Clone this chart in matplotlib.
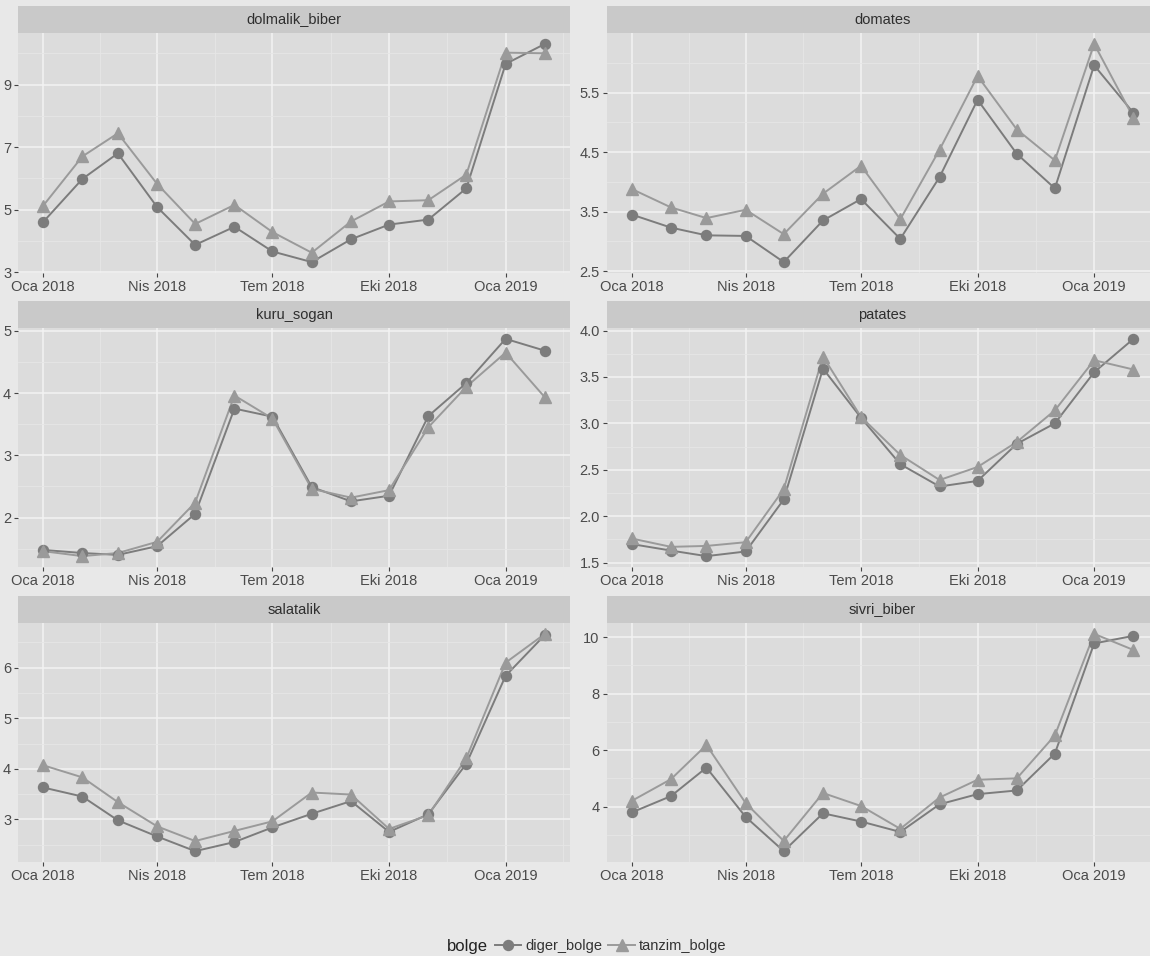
import matplotlib
matplotlib.use("Agg")
import matplotlib.pyplot as plt
import matplotlib.dates as mdates
from matplotlib.lines import Line2D
import pandas as pd

plt.rcParams['font.family'] = ['Liberation Sans', 'DejaVu Sans']

# ---------------- data ----------------
months = pd.to_datetime([
    "2018-01-01", "2018-02-01", "2018-03-01", "2018-04-01", "2018-05-01",
    "2018-06-01", "2018-07-01", "2018-08-01", "2018-09-01", "2018-10-01",
    "2018-11-01", "2018-12-01", "2019-01-01", "2019-02-01"])

products = ["dolmalik_biber", "domates", "kuru_sogan", "patates", "salatalik", "sivri_biber"]
series_names = ["diger_bolge", "tanzim_bolge"]
legend_title = "bolge"

dolmalik_biber_diger = [4.60, 5.98, 6.80, 5.08, 3.87, 4.45, 3.66, 3.32, 4.05, 4.52, 4.68, 5.68, 9.66, 10.30]
dolmalik_biber_tanzim = [5.12, 6.70, 7.44, 5.82, 4.54, 5.15, 4.28, 3.62, 4.62, 5.26, 5.30, 6.12, 10.02, 10.00]

domates_diger = [3.45, 3.23, 3.10, 3.09, 2.65, 3.35, 3.71, 3.04, 4.08, 5.38, 4.47, 3.89, 5.96, 5.16]
domates_tanzim = [3.88, 3.57, 3.39, 3.53, 3.12, 3.80, 4.27, 3.37, 4.54, 5.78, 4.88, 4.36, 6.32, 5.08]

kuru_sogan_diger = [1.48, 1.43, 1.40, 1.54, 2.06, 3.75, 3.62, 2.49, 2.26, 2.35, 3.63, 4.16, 4.87, 4.68]
kuru_sogan_tanzim = [1.46, 1.38, 1.43, 1.61, 2.24, 3.96, 3.59, 2.46, 2.32, 2.44, 3.45, 4.10, 4.65, 3.93]

patates_diger = [1.70, 1.63, 1.57, 1.62, 2.18, 3.59, 3.06, 2.56, 2.32, 2.38, 2.78, 3.00, 3.55, 3.91]
patates_tanzim = [1.76, 1.67, 1.68, 1.72, 2.29, 3.72, 3.07, 2.66, 2.39, 2.53, 2.80, 3.14, 3.68, 3.58]

salatalik_diger = [3.63, 3.45, 2.98, 2.66, 2.37, 2.55, 2.84, 3.11, 3.36, 2.75, 3.10, 4.10, 5.84, 6.65]
salatalik_tanzim = [4.07, 3.83, 3.34, 2.86, 2.57, 2.77, 2.96, 3.53, 3.49, 2.81, 3.08, 4.21, 6.10, 6.67]

sivri_biber_diger = [3.79, 4.37, 5.38, 3.63, 2.42, 3.76, 3.47, 3.10, 4.08, 4.44, 4.57, 5.88, 9.78, 10.05]
sivri_biber_tanzim = [4.20, 4.97, 6.18, 4.12, 2.78, 4.48, 4.02, 3.21, 4.32, 4.95, 5.00, 6.52, 10.12, 9.55]

values = {
    "dolmalik_biber": (dolmalik_biber_diger, dolmalik_biber_tanzim),
    "domates": (domates_diger, domates_tanzim),
    "kuru_sogan": (kuru_sogan_diger, kuru_sogan_tanzim),
    "patates": (patates_diger, patates_tanzim),
    "salatalik": (salatalik_diger, salatalik_tanzim),
    "sivri_biber": (sivri_biber_diger, sivri_biber_tanzim),
}

y_breaks = {
    "dolmalik_biber": [3, 5, 7, 9],
    "domates": [2.5, 3.5, 4.5, 5.5],
    "kuru_sogan": [2, 3, 4, 5],
    "patates": [1.5, 2.0, 2.5, 3.0, 3.5, 4.0],
    "salatalik": [3, 4, 5, 6],
    "sivri_biber": [4, 6, 8, 10],
}
y_labels = {
    "dolmalik_biber": ["3", "5", "7", "9"],
    "domates": ["2.5", "3.5", "4.5", "5.5"],
    "kuru_sogan": ["2", "3", "4", "5"],
    "patates": ["1.5", "2.0", "2.5", "3.0", "3.5", "4.0"],
    "salatalik": ["3", "4", "5", "6"],
    "sivri_biber": ["4", "6", "8", "10"],
}

x_breaks = pd.to_datetime(["2018-01-01", "2018-04-01", "2018-07-01", "2018-10-01", "2019-01-01", "2019-04-01"])
x_labels = ["Oca 2018", "Nis 2018", "Tem 2018", "Eki 2018", "Oca 2019", ""]

# ---------------- style ----------------
FIG_BG = "#e8e8e8"
PANEL_BG = "#dcdcdc"
STRIP_BG = "#c9c9c9"
GRID_MAJ = "#f3f3f3"
GRID_MIN = "#e6e6e6"
COL_DIGER = "#7c7c7c"
COL_TANZIM = "#9a9a9a"
TXT = "#4a4a4a"
STRIP_TXT = "#2e2e2e"

W, H = 1150, 956
fig = plt.figure(figsize=(W / 100, H / 100), dpi=100, facecolor=FIG_BG)

col_x = [(18, 570), (606.6, 1158.5)]
row_y = [((6, 33), (33, 273)), ((301, 328), (328, 567)), ((596, 623), (623, 862))]

def fbox(x0, x1, y0, y1):
    return [x0 / W, 1 - y1 / H, (x1 - x0) / W, (y1 - y0) / H]

xnum = mdates.date2num(months)
xb = mdates.date2num(x_breaks)
x_minor = [(xb[i] + xb[i + 1]) / 2 for i in range(len(xb) - 1)]

for idx, prod in enumerate(products):
    r, c = divmod(idx, 2)
    (sy0, sy1), (py0, py1) = row_y[r]
    x0, x1 = col_x[c]
    ax = fig.add_axes(fbox(x0, x1, py0, py1))
    ax.set_facecolor(PANEL_BG)
    for s in ax.spines.values():
        s.set_visible(False)

    d, t = values[prod]
    ax.plot(xnum, d, color=COL_DIGER, lw=1.4, zorder=3, solid_capstyle="butt")
    ax.plot(xnum, t, color=COL_TANZIM, lw=1.4, zorder=3.1)
    ax.plot(xnum, d, ls="none", marker="o", ms=7.2, color=COL_DIGER, mec=COL_DIGER, zorder=4)
    ax.plot(xnum, t, ls="none", marker="^", ms=9.0, color=COL_TANZIM, mec=COL_TANZIM, zorder=4.1)

    ax.margins(x=0.05, y=0.05)
    ax.autoscale_view()
    yl = ax.get_ylim()
    xl = ax.get_xlim()

    yb = y_breaks[prod]
    step = yb[1] - yb[0]
    y_minor = [v + step / 2 for v in [yb[0] - step] + yb]
    ax.set_yticks(yb)
    ax.set_yticklabels(y_labels[prod])
    ax.set_yticks([v for v in y_minor if yl[0] <= v <= yl[1]], minor=True)
    ax.set_xticks(xb)
    ax.set_xticklabels(x_labels)
    ax.set_xticks(x_minor, minor=True)
    ax.set_xlim(xl)
    ax.set_ylim(yl)

    ax.grid(True, which="major", color=GRID_MAJ, lw=1.1, zorder=0)
    ax.grid(True, which="minor", color=GRID_MIN, lw=0.6, zorder=0)
    ax.set_axisbelow(True)
    ax.tick_params(which="major", length=2.75, width=0.8, color="#444444",
                   labelsize=10.5, labelcolor=TXT, pad=2.2)
    ax.tick_params(which="minor", length=0)

    sax = fig.add_axes(fbox(x0, x1, sy0, sy1))
    sax.set_facecolor(STRIP_BG)
    sax.set_xticks([]); sax.set_yticks([])
    for s in sax.spines.values():
        s.set_visible(False)
    sax.text(0.5, 0.5, prod, ha="center", va="center", fontsize=10.5,
             color=STRIP_TXT, transform=sax.transAxes)

# ---------------- legend ----------------
fig.text(447 / W, 1 - 946 / H, legend_title, ha="left", va="center", fontsize=12, color="#222222")
handles = [
    Line2D([0], [0], color=COL_DIGER, lw=1.4, marker="o", ms=7.2, mec=COL_DIGER),
    Line2D([0], [0], color=COL_TANZIM, lw=1.4, marker="^", ms=9.0, mec=COL_TANZIM),
]
fig.legend(handles, series_names, loc="center left", bbox_to_anchor=(495 / W, 1 - 946 / H),
           ncol=2, frameon=False, fontsize=10.5, handlelength=1.8, handletextpad=0.3,
           columnspacing=0.4, borderpad=0, borderaxespad=0, labelcolor="#333333")

fig.savefig("out.png", dpi=100, facecolor=FIG_BG)
